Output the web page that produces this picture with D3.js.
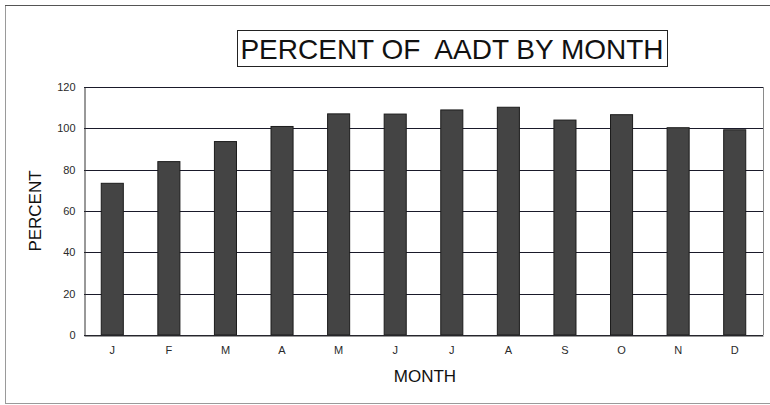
<!DOCTYPE html>
<html>
<head>
<meta charset="utf-8">
<script src="https://cdn.jsdelivr.net/npm/d3@7"></script>
<style>
  html, body { margin: 0; padding: 0; background: #fff; }
  svg { display: block; font-family: "Liberation Sans", Arial, sans-serif; }
</style>
</head>
<body>
<svg id="chart" width="770" height="405"></svg>
<script>
// Monthly traffic as a percentage of annual average daily traffic
const months = ["J", "F", "M", "A", "M", "J", "J", "A", "S", "O", "N", "D"];
const percents = [73.4, 83.9, 93.6, 100.9, 107.0, 106.9, 108.9, 110.2, 104.0, 106.6, 100.3, 99.3];
const yTicks = [0, 20, 40, 60, 80, 100, 120];

const svg = d3.select("#chart");
const margin = { left: 84, right: 7, top: 87, bottom: 70 };
const W = 770, H = 405;

// outer frame
svg.append("rect")
  .attr("x", 5.5).attr("y", 5.5).attr("width", 772).attr("height", 398)
  .attr("fill", "none").attr("stroke", "#9a9a9a").attr("stroke-width", 1);
svg.append("line")
  .attr("x1", 5).attr("x2", 770).attr("y1", 5.5).attr("y2", 5.5)
  .attr("stroke", "#555").attr("stroke-width", 1.2);

// index positions keep repeated month letters on separate bands
const x = d3.scaleBand()
  .domain(d3.range(months.length))
  .range([margin.left, W - margin.right])
  .paddingInner(0.61).paddingOuter(0.305);

const y = d3.scaleLinear()
  .domain([0, 120])
  .range([H - margin.bottom, margin.top]);

// gridlines
svg.append("g")
  .selectAll("line")
  .data(yTicks)
  .join("line")
  .attr("x1", margin.left).attr("x2", W - margin.right)
  .attr("y1", d => Math.round(y(d)) + 0.5).attr("y2", d => Math.round(y(d)) + 0.5)
  .attr("stroke", "#1a1a2a").attr("stroke-width", 1.1);

// plot-area right edge
svg.append("line")
  .attr("x1", W - margin.right + 0.5).attr("x2", W - margin.right + 0.5)
  .attr("y1", y(120)).attr("y2", y(0))
  .attr("stroke", "#8a8a8a");

// y axis
const yAxis = d3.axisLeft(y).tickValues(yTicks).tickSize(0).tickPadding(9);
const gy = svg.append("g")
  .attr("transform", `translate(${margin.left + 0.5},0)`)
  .call(yAxis);
gy.select(".domain").attr("stroke", "#333");
gy.selectAll("text").attr("font-size", 11).attr("fill", "#2a2a2a")
  .attr("font-family", "\"Liberation Sans\", Arial, sans-serif");

// bars
svg.append("g")
  .selectAll("rect")
  .data(percents)
  .join("rect")
  .attr("x", (d, i) => x(i))
  .attr("width", x.bandwidth())
  .attr("y", d => y(d))
  .attr("height", d => y(0) - y(d))
  .attr("fill", "#444444")
  .attr("stroke", "#1c1c1c")
  .attr("stroke-width", 1);

// x axis
const xAxis = d3.axisBottom(x).tickFormat(i => months[i]).tickSize(0).tickPadding(11);
const gx = svg.append("g")
  .attr("transform", `translate(0,${Math.round(y(0)) + 0.5})`)
  .call(xAxis);
gx.select(".domain").attr("stroke", "#333");
gx.selectAll("text").attr("font-size", 11).attr("fill", "#2a2a2a")
  .attr("font-family", "\"Liberation Sans\", Arial, sans-serif");

// axis titles
svg.append("text")
  .attr("transform", `translate(41,${(y(0) + y(120)) / 2}) rotate(-90)`)
  .attr("text-anchor", "middle")
  .attr("font-size", 17).attr("fill", "#111")
  .text("PERCENT");

svg.append("text")
  .attr("x", 425).attr("y", 382)
  .attr("text-anchor", "middle")
  .attr("font-size", 17).attr("fill", "#111")
  .text("MONTH");

// boxed title
svg.append("rect")
  .attr("x", 237.5).attr("y", 30.5).attr("width", 430).attr("height", 36)
  .attr("fill", "#fff").attr("stroke", "#222").attr("stroke-width", 1);
svg.append("text")
  .attr("x", 452).attr("y", 59)
  .attr("text-anchor", "middle")
  .attr("font-size", 28).attr("fill", "#111")
  .style("white-space", "pre")
  .text("PERCENT OF  AADT BY MONTH");
</script>
</body>
</html>
